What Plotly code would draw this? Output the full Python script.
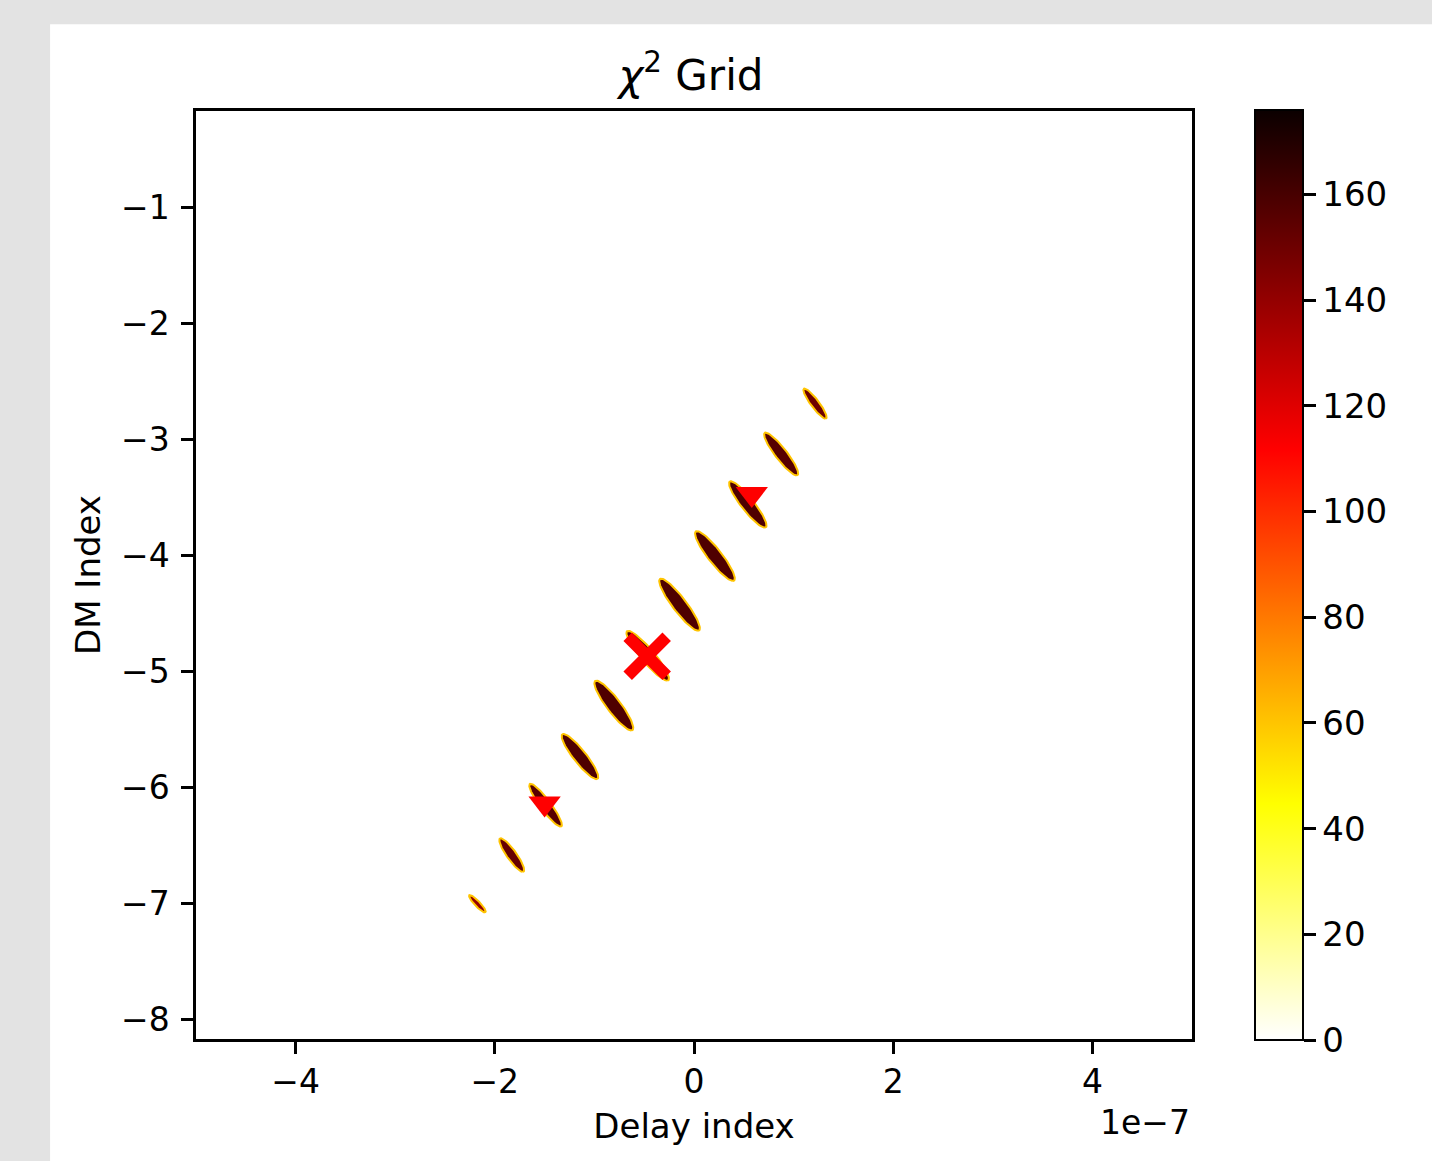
import numpy as np
import plotly.graph_objects as go
from plotly.colors import sample_colorscale

# chi^2 minima along the delay / DM diagonal (delay in units of 1e-7)
delay_start = [-2.25, -1.94, -1.64, -1.31, -0.98, -0.66, -0.33, 0.03, 0.37, 0.72, 1.11]
delay_end = [-2.10, -1.72, -1.34, -0.98, -0.63, -0.27, 0.04, 0.39, 0.71, 1.03, 1.32]
dm_start = [-6.93, -6.44, -5.97, -5.54, -5.08, -4.65, -4.20, -3.79, -3.36, -2.94, -2.56]
dm_end = [-7.08, -6.73, -6.34, -5.93, -5.51, -5.08, -4.65, -4.22, -3.76, -3.31, -2.82]
delay_halfwidth = [0.036, 0.058, 0.065, 0.080, 0.086, 0.086, 0.086, 0.086, 0.080, 0.072, 0.050]
chi2_value = [140, 152, 156, 158, 158, 158, 158, 158, 158, 156, 150]

best_delay = [-0.47]
best_dm = [-4.87]
alt_delay = [0.58, -1.50]
alt_dm = [-3.47, -6.14]

CHI2_MAX = 176.0
SCALE = 1e-7
HOT_R = [
    [0.0, "rgb(255,255,255)"],
    [0.253968, "rgb(255,255,0)"],
    [0.634921, "rgb(255,0,0)"],
    [1.0, "rgb(11,0,0)"],
]
FONT = "DejaVu Sans"

fig = go.Figure()

t = np.linspace(0, 2 * np.pi, 90)
for x0, x1, y0, y1, hw, v in zip(delay_start, delay_end, dm_start, dm_end, delay_halfwidth, chi2_value):
    cx, cy = (x0 + x1) / 2, (y0 + y1) / 2
    ax, ay = (x1 - x0) / 2, (y1 - y0) / 2
    ex = (cx + ax * np.cos(t) + hw * np.sin(t)) * SCALE
    ey = cy + ay * np.cos(t)
    fill = sample_colorscale(HOT_R, [v / CHI2_MAX])[0]
    fig.add_trace(
        go.Scatter(
            x=ex,
            y=ey,
            mode="lines",
            fill="toself",
            fillcolor=fill,
            line=dict(color="#ffc400", width=2),
            hoverinfo="skip",
            showlegend=False,
        )
    )

# invisible trace that carries the colour bar
fig.add_trace(
    go.Scatter(
        x=[(a + b) / 2 * SCALE for a, b in zip(delay_start, delay_end)],
        y=[(a + b) / 2 for a, b in zip(dm_start, dm_end)],
        mode="markers",
        marker=dict(
            size=1,
            opacity=0,
            color=chi2_value,
            colorscale=HOT_R,
            cmin=0,
            cmax=CHI2_MAX,
            showscale=True,
            colorbar=dict(
                x=1.0633,
                xanchor="left",
                xpad=0,
                y=0.5,
                yanchor="middle",
                ypad=0,
                len=930,
                lenmode="pixels",
                thickness=48,
                outlinewidth=2,
                outlinecolor="black",
                ticks="outside",
                ticklen=12,
                tickwidth=2.5,
                tickcolor="black",
                tickvals=[0, 20, 40, 60, 80, 100, 120, 140, 160],
                tickprefix="\u202f",
                tickfont=dict(family=FONT, size=34, color="black"),
            ),
        ),
        hoverinfo="skip",
        showlegend=False,
    )
)

fig.add_trace(
    go.Scatter(
        x=[d * SCALE for d in alt_delay],
        y=alt_dm,
        mode="markers",
        marker=dict(symbol="triangle-down", size=28, color="red", line=dict(width=0)),
        showlegend=False,
    )
)
fig.add_trace(
    go.Scatter(
        x=[d * SCALE for d in best_delay],
        y=best_dm,
        mode="markers",
        marker=dict(symbol="x-thin", size=39, color="red", line=dict(color="red", width=12)),
        showlegend=False,
    )
)

axis_common = dict(
    showline=True,
    mirror=True,
    linecolor="black",
    linewidth=2.5,
    ticks="outside",
    ticklen=12,
    tickwidth=2.5,
    tickcolor="black",
    showgrid=False,
    zeroline=False,
    tickfont=dict(family=FONT, size=33, color="black"),
)

fig.update_xaxes(
    range=[-5 * SCALE, 5 * SCALE],
    tickvals=[-4 * SCALE, -2 * SCALE, 0, 2 * SCALE, 4 * SCALE],
    ticktext=["\u22124", "\u22122", "0", "2", "4"],
    ticklabelstandoff=0,
    title=dict(text="Delay index", font=dict(family=FONT, size=34, color="black"), standoff=14),
    **axis_common,
)
fig.update_yaxes(
    range=[-8.172, -0.165],
    tickvals=[-8, -7, -6, -5, -4, -3, -2, -1],
    ticklabelstandoff=5,
    title=dict(text="DM Index", font=dict(family=FONT, size=34, color="black"), standoff=11),
    **axis_common,
)

fig.add_shape(
    type="rect",
    xref="paper",
    yref="paper",
    x0=-0.1465,
    x1=1.4,
    y0=-0.3,
    y1=1.0935,
    fillcolor="white",
    line=dict(width=0),
    layer="below",
)

fig.add_annotation(
    text="1e\u22127",
    xref="paper",
    yref="paper",
    x=1.0,
    y=-0.0903,
    xanchor="right",
    yanchor="middle",
    showarrow=False,
    font=dict(family=FONT, size=33, color="black"),
)

fig.update_layout(
    width=1432,
    height=1161,
    margin=dict(l=196, r=240, t=111, b=122, autoexpand=False),
    paper_bgcolor="#e3e3e3",
    plot_bgcolor="white",
    font=dict(family=FONT, color="black"),
    title=dict(
        text="<i>\u03c7</i><sup>2</sup> Grid",
        x=0.4825,
        xanchor="center",
        y=1 - 75 / 1161,
        yanchor="middle",
        font=dict(family=FONT, size=42, color="black"),
    ),
    showlegend=False,
)

fig.write_html(
    "out.html",
    config={"displayModeBar": False},
    post_script="document.body.style.margin='0';",
)
